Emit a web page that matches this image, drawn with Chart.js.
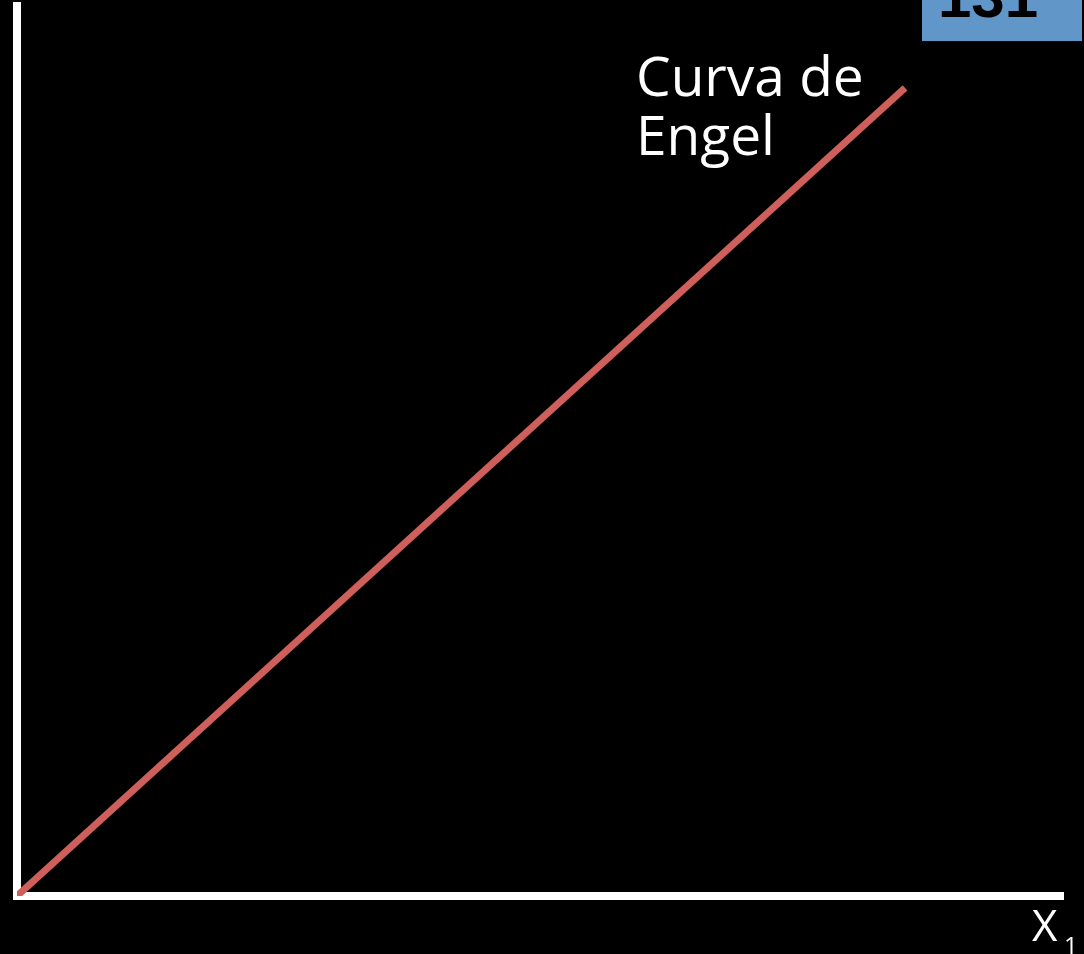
<!DOCTYPE html>
<html>
<head>
<meta charset="utf-8">
<script src="https://cdn.jsdelivr.net/npm/chart.js@4"></script>
<style>
  html, body { margin: 0; padding: 0; background: #000; }
  #wrap { width: 1084px; height: 954px; position: relative; }
</style>
</head>
<body>
<div id="wrap"><canvas id="canvasChart" width="1084" height="954"></canvas></div>
<script>
// Curva de Engel: x1 against income, straight line from the origin
const income = [0, 90.8]
const x1 = [0, 84.9]
const curveLabel = ['Curva de', 'Engel']
const xAxisLabel = 'X'
const xAxisSub = '1'
const slideNumber = '131'

const points = x1.map((x, i) => ({ x, y: income[i] }))

const annotations = {
  id: 'annotations',
  afterDraw(chart) {
    const { ctx, chartArea } = chart
    ctx.save()
    // slide number box, top right
    ctx.fillStyle = '#6096c8'
    ctx.fillRect(922, 0, 160, 41)
    ctx.fillStyle = '#000'
    ctx.font = 'bold 60px "Liberation Sans", sans-serif'
    ctx.textAlign = 'center'
    ctx.textBaseline = 'alphabetic'
    ctx.fillText(slideNumber, 988, 17)

    // curve label
    ctx.fillStyle = '#fff'
    ctx.textAlign = 'left'
    ctx.font = '55px "Open Sans", sans-serif'
    ctx.fillText(curveLabel[0], 636, 96)
    ctx.fillText(curveLabel[1], 636, 155)

    // axis label X1
    ctx.font = '44px "Open Sans", sans-serif'
    ctx.fillText(xAxisLabel, chartArea.right - 31, 941)
    ctx.font = '24px "Open Sans", sans-serif'
    ctx.fillText(xAxisSub, chartArea.right + 1, 954)
    ctx.restore()
  },
}

new Chart(document.getElementById('canvasChart'), {
  type: 'scatter',
  data: {
    datasets: [
      {
        data: points,
        showLine: true,
        borderColor: '#cf5f5a',
        borderWidth: 7,
        pointRadius: 0,
        borderCapStyle: 'butt',
      },
    ],
  },
  options: {
    responsive: false,
    animation: false,
    layout: { padding: { left: 9, right: 21, top: 6, bottom: 50 } },
    scales: {
      x: {
        min: 0,
        max: 100,
        grid: { display: false },
        ticks: { display: false },
        border: { color: '#fff', width: 8 },
      },
      y: {
        min: 0,
        max: 100,
        grid: { display: false },
        ticks: { display: false },
        border: { color: '#fff', width: 8 },
      },
    },
    plugins: {
      legend: { display: false },
      tooltip: { enabled: false },
    },
  },
  plugins: [annotations],
})
</script>
</body>
</html>
